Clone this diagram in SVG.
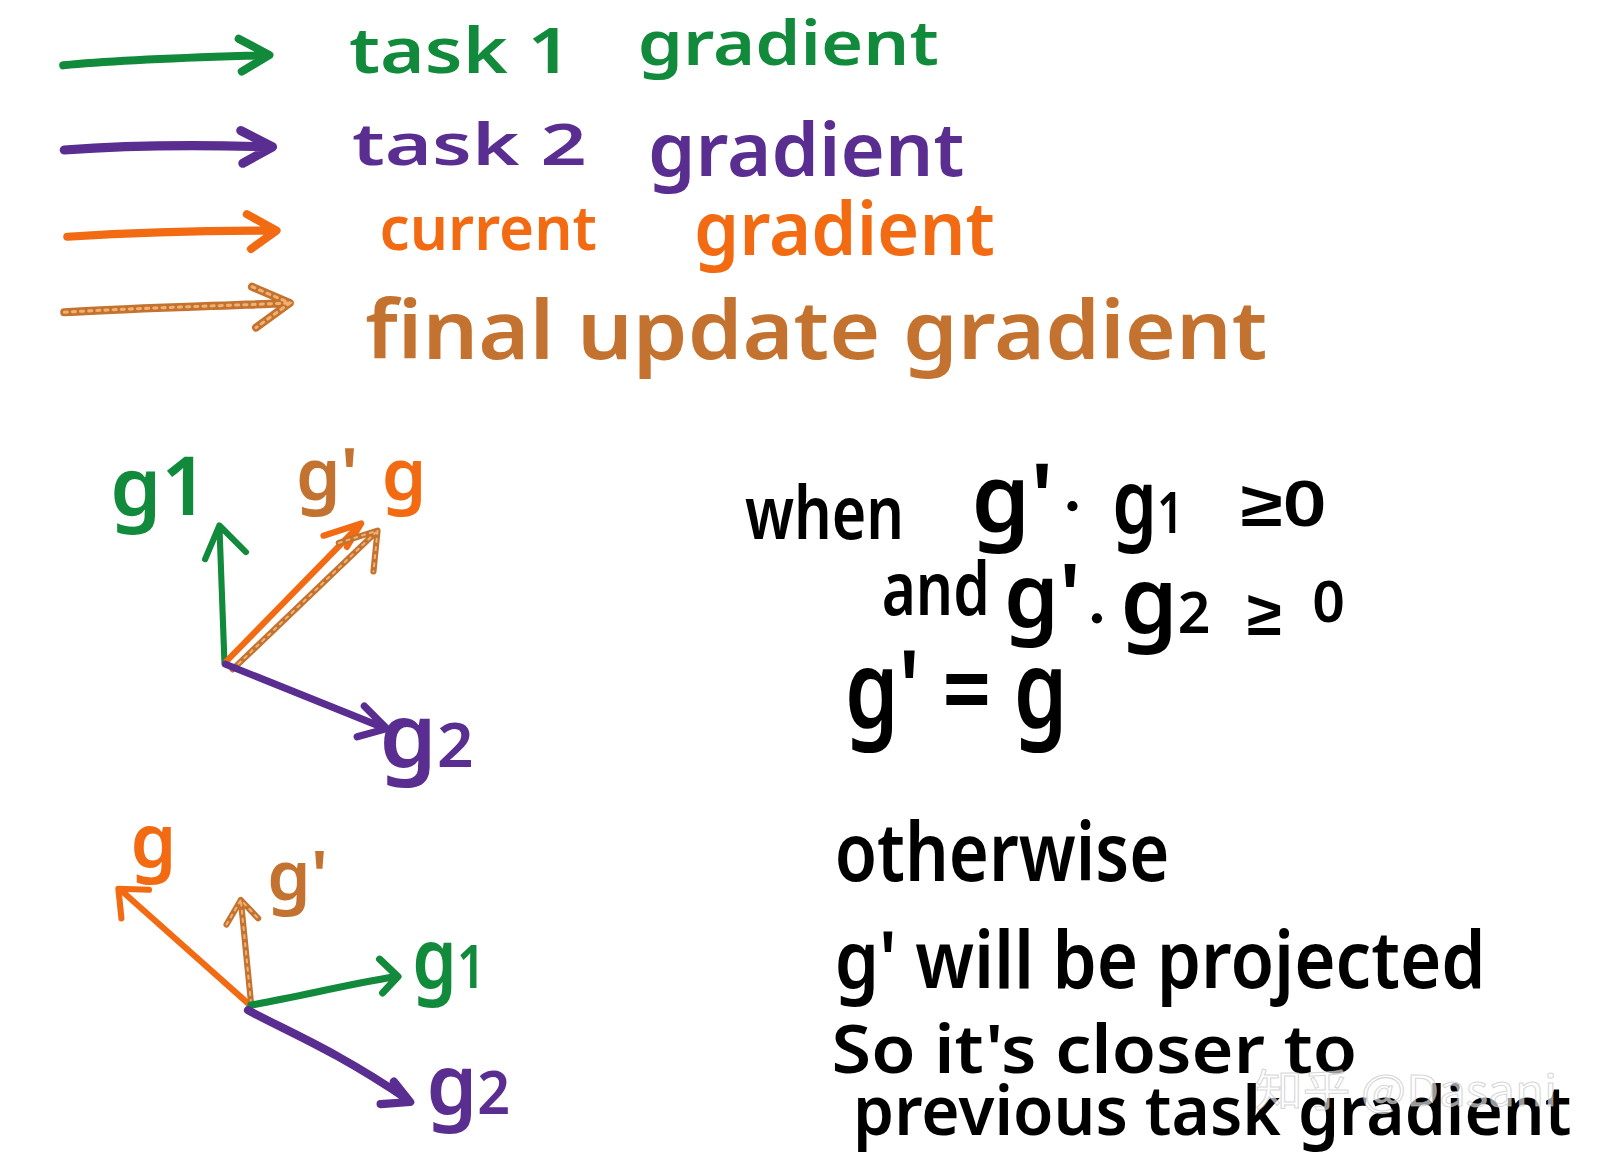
<svg xmlns="http://www.w3.org/2000/svg" width="1600" height="1159" viewBox="0 0 1600 1159">
<style>
text{font-family:"Noto Sans","Liberation Sans",sans-serif;font-weight:600}
.gr{fill:#128a3c}.pu{fill:#5a2d91}.or{fill:#f26b12}.br{fill:#c4722f}.bk{fill:#000}
.sg{stroke:#128a3c}.sp{stroke:#5a2d91}.so{stroke:#f26b12}.sb{stroke:#c4722f}
.ln{fill:none;stroke-linecap:round;stroke-linejoin:round}
.tex{fill:none;stroke:#f0b070;stroke-dasharray:3 5;stroke-linecap:round}
.wm{font-family:"Noto Sans CJK SC","Noto Sans",sans-serif;font-weight:400;fill:#ffffff;fill-opacity:0.6;stroke:#bbbbbb;stroke-opacity:0.6;stroke-width:1}
</style>
<rect width="1600" height="1159" fill="#ffffff"/>
<g transform="scale(1.020408)">
<g id="connectors">
  <path class="ln sg" stroke-width="8" d="M62,64 C120,58 200,56 262,54 M234,38 L264,54 L237,70"/>
  <path class="ln sp" stroke-width="9" d="M63,147 C130,142 200,142 266,144 M236,128 L267,144 L238,160"/>
  <path class="ln so" stroke-width="8" d="M66,232 C130,228 210,226 270,226 M242,210 L271,226 L246,244"/>
  <path class="ln sb" stroke-width="8" d="M63,306 C130,302 210,300 283,297 M247,281 L284,297 L251,321"/>
  <path class="tex" stroke-width="3" d="M63,306 C130,302 210,300 283,297 M247,281 L284,297 L251,321"/>
  <path class="ln sg" stroke-width="6" d="M220,650 L215,515 M201,548 L215,515 L241,541"/>
  <path class="ln so" stroke-width="6" d="M222,648 L352,515 M317,525 L354,513 L340,536"/>
  <path class="ln sb" stroke-width="6" d="M228,656 L368,522 M332,532 L370,520 L366,560"/>
  <path class="tex" stroke-width="2" d="M228,656 L368,522 M332,532 L370,520 L366,560"/>
  <path class="ln sp" stroke-width="7" d="M221,651 L378,714 M357,692 L379,714 L350,722"/>
  <path class="ln so" stroke-width="6" d="M245,985 L118,872 M119,900 L116,871 L146,872"/>
  <path class="ln sb" stroke-width="6" d="M246,983 L236,882 M222,906 L236,882 L253,900"/>
  <path class="tex" stroke-width="2" d="M246,983 L236,882 M222,906 L236,882 L253,900"/>
  <path class="ln sg" stroke-width="7" d="M246,985 C300,975 340,965 388,957 M372,940 L390,957 L375,973"/>
  <path class="ln sp" stroke-width="8" d="M243,990 C280,1010 330,1030 400,1078 M386,1060 L402,1080 L373,1082"/>
</g>
<g id="legend-task1"><text class="gr" x="342" y="72" font-size="62" textLength="218" lengthAdjust="spacingAndGlyphs">task 1</text><text class="gr" x="625" y="64" font-size="60" textLength="295" lengthAdjust="spacingAndGlyphs">gradient</text></g>
<g id="legend-task2"><text class="pu" x="345" y="162" font-size="56" textLength="230" lengthAdjust="spacingAndGlyphs">task 2</text><text class="pu" x="635" y="172" font-size="72" textLength="310" lengthAdjust="spacingAndGlyphs">gradient</text></g>
<g id="legend-current"><text class="or" x="372" y="245" font-size="60" textLength="213" lengthAdjust="spacingAndGlyphs">current</text><text class="or" x="680" y="250" font-size="72" textLength="295" lengthAdjust="spacingAndGlyphs">gradient</text></g>
<g id="legend-final"><text class="br" x="358" y="352" font-size="80" textLength="884" lengthAdjust="spacingAndGlyphs">final update gradient</text></g>
<g id="top-g1"><text class="gr" x="108" y="505" font-size="80">g1</text></g>
<g id="top-gprime"><text class="br" x="290" y="490" font-size="70">g'</text></g>
<g id="top-g"><text class="or" x="374" y="490" font-size="70">g</text></g>
<g id="top-g2"><text class="pu" x="372" y="752" font-size="86" textLength="92" lengthAdjust="spacingAndGlyphs">g<tspan font-size="60">2</tspan></text></g>
<g id="bot-g"><text class="or" x="128" y="850" font-size="72">g</text></g>
<g id="bot-gprime"><text class="br" x="262" y="882" font-size="68">g'</text></g>
<g id="bot-g1"><text class="gr" x="404" y="968" font-size="82" textLength="72" lengthAdjust="spacingAndGlyphs">g<tspan font-size="58">1</tspan></text></g>
<g id="bot-g2"><text class="pu" x="418" y="1092" font-size="82" textLength="82" lengthAdjust="spacingAndGlyphs">g<tspan font-size="58">2</tspan></text></g>
<g id="cond-when">
  <text class="bk" x="730" y="528" font-size="72" textLength="156" lengthAdjust="spacingAndGlyphs">when</text>
  <text class="bk" x="952" y="520" font-size="92">g'</text>
  <circle cx="1051" cy="496" r="5" fill="#000"/>
  <text class="bk" x="1090" y="522" font-size="86" textLength="70" lengthAdjust="spacingAndGlyphs">g<tspan font-size="56">1</tspan></text>
  <text class="bk" x="1216" y="515" font-size="62" textLength="84" lengthAdjust="spacingAndGlyphs">≥0</text>
</g>
<g id="cond-and">
  <text class="bk" x="864" y="603" font-size="72" textLength="106" lengthAdjust="spacingAndGlyphs">and</text>
  <text class="bk" x="984" y="614" font-size="86">g'</text>
  <circle cx="1075" cy="606" r="5" fill="#000"/>
  <text class="bk" x="1098" y="620" font-size="90" textLength="88" lengthAdjust="spacingAndGlyphs">g<tspan font-size="56">2</tspan></text>
  <text class="bk" x="1222" y="622" font-size="62">≥</text>
  <text class="bk" x="1286" y="610" font-size="56">0</text>
</g>
<g id="cond-eq"><text class="bk" x="828" y="712" font-size="104" textLength="218" lengthAdjust="spacingAndGlyphs">g' = g</text></g>
<g id="otherwise"><text class="bk" x="818" y="863" font-size="80" textLength="328" lengthAdjust="spacingAndGlyphs">otherwise</text></g>
<g id="projected"><text class="bk" x="818" y="968" font-size="78" textLength="638" lengthAdjust="spacingAndGlyphs">g' will be projected</text></g>
<g id="closer"><text class="bk" x="815" y="1052" font-size="66" textLength="515" lengthAdjust="spacingAndGlyphs">So it's closer to</text></g>
<g id="previous"><text class="bk" x="836" y="1112" font-size="68" textLength="704" lengthAdjust="spacingAndGlyphs">previous task gradient</text></g>
<g id="watermark"><text class="wm" x="1230" y="1084" font-size="42" textLength="296" lengthAdjust="spacingAndGlyphs">知乎 @Dasani</text></g>
</g>
</svg>
